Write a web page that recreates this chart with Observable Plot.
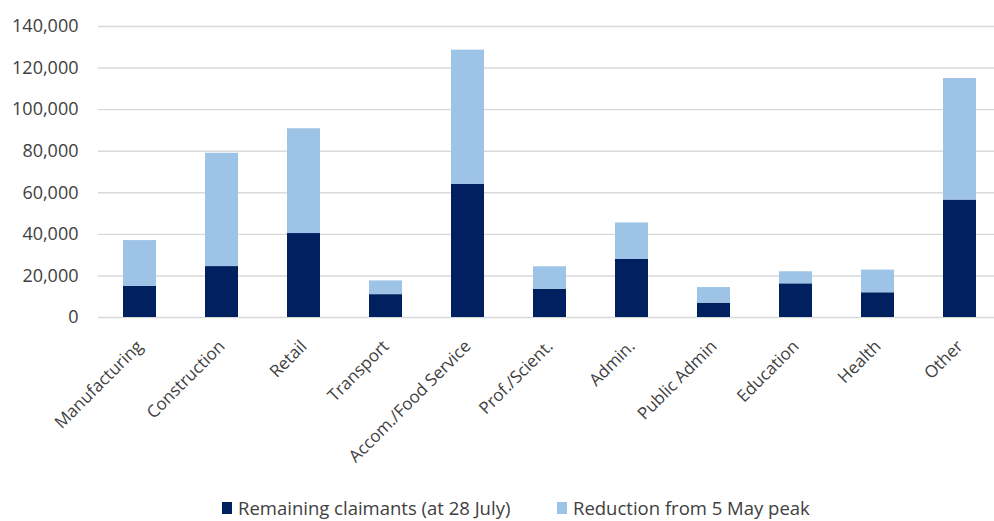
<!DOCTYPE html>
<html>
<head>
<meta charset="utf-8">
<script src="https://cdn.jsdelivr.net/npm/d3@7"></script>
<script src="https://cdn.jsdelivr.net/npm/@observablehq/plot@0.6"></script>
<style>
  html, body { margin: 0; padding: 0; background: #fff; }
  #wrap { width: 994px; height: 521px; position: relative; overflow: hidden; }
  #legend { position: absolute; left: 0; top: 490px; width: 994px; height: 31px;
            font-family: "Open Sans", sans-serif; font-size: 18.5px; color: #404040; }
  .item { position: absolute; top: 5px; display: flex; align-items: center; white-space: nowrap; }
  .sw { width: 10px; height: 12px; margin-right: 6px; }
</style>
</head>
<body>
<div id="wrap">
  <div id="chart"></div>
  <div id="legend"></div>
</div>
<script>
const categories = ["Manufacturing", "Construction", "Retail", "Transport", "Accom./Food Service",
  "Prof./Scient.", "Admin.", "Public Admin", "Education", "Health", "Other"];
const seriesNames = ["Remaining claimants (at 28 July)", "Reduction from 5 May peak"];
const remaining = [15000, 24500, 40400, 11000, 64100, 13600, 27900, 6900, 16200, 11900, 56500];
const reduction = [22000, 54500, 50400, 6600, 64500, 10800, 17600, 7500, 5800, 10900, 58500];
const yTicks = [0, 20000, 40000, 60000, 80000, 100000, 120000, 140000];
const colors = ["#002060", "#9DC3E6"];

const data = [];
categories.forEach((c, i) => data.push({category: c, series: seriesNames[0], value: remaining[i]}));
categories.forEach((c, i) => data.push({category: c, series: seriesNames[1], value: reduction[i]}));

const chart = Plot.plot({
  width: 994,
  height: 490,
  marginLeft: 98,
  marginRight: 0,
  marginTop: 26,
  marginBottom: 173,
  style: {fontFamily: "Open Sans, sans-serif", color: "#404040", background: "#fff"},
  x: {domain: categories, range: [98, 1000], paddingInner: 0.6, paddingOuter: 0.3, label: null},
  y: {domain: [0, 140000], label: null},
  color: {domain: seriesNames, range: colors},
  marks: [
    Plot.ruleY(yTicks, {stroke: "#d9d9d9", strokeWidth: 1.4}),
    Plot.barY(data, {x: "category", y: "value", fill: "series"}),
    Plot.axisY({ticks: yTicks, tickSize: 0, tickPadding: 20, tickFormat: d3.format(","), fontSize: 18, label: null}),
    Plot.axisX({tickSize: 0, tickRotate: -45, tickPadding: 26, fontSize: 17, label: null})
  ]
});
document.getElementById("chart").appendChild(chart);

const legend = document.getElementById("legend");
const lefts = [222, 557];
seriesNames.forEach((s, i) => {
  const it = document.createElement("div");
  it.className = "item";
  it.style.left = lefts[i] + "px";
  const sw = document.createElement("span");
  sw.className = "sw";
  sw.style.background = colors[i];
  const tx = document.createElement("span");
  tx.textContent = s;
  it.appendChild(sw);
  it.appendChild(tx);
  legend.appendChild(it);
});
</script>
</body>
</html>
